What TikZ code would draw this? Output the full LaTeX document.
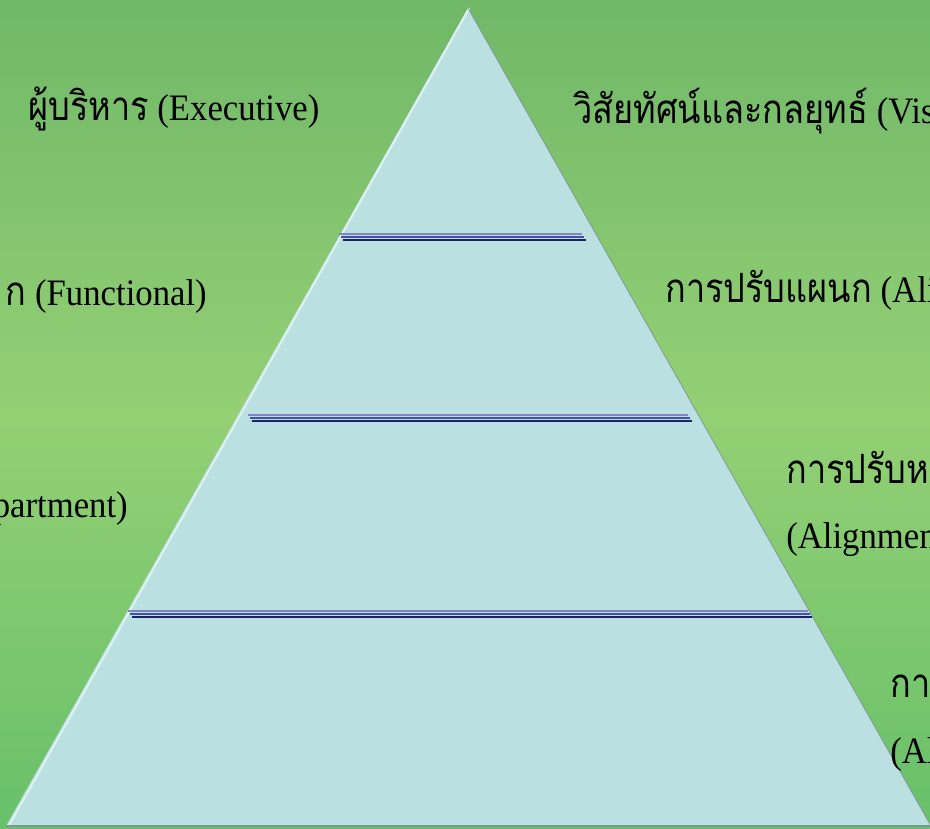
\documentclass[tikz,border=0pt]{standalone}
\usepackage{fontspec}
\setmainfont[FakeStretch=0.93]{Liberation Serif}
\newfontfamily\thaifont[Script=Thai,FakeStretch=0.85,Scale=1.08]{Loma}
\usetikzlibrary{positioning}
\definecolor{bgtop}{RGB}{112,184,104}
\definecolor{bgmid}{RGB}{148,208,116}
\definecolor{bgbot}{RGB}{104,192,106}
\definecolor{pyrfill}{RGB}{186,224,226}
\definecolor{pyrlight}{RGB}{222,241,242}
\definecolor{pyrshade}{RGB}{128,150,150}
\definecolor{barlight}{RGB}{128,132,196}
\definecolor{barmid}{RGB}{70,80,168}
\definecolor{bardark}{RGB}{28,34,98}

\tikzset{
  lbl/.style={inner sep=0pt, font=\fontsize{28}{34}\selectfont}
}

\begin{document}
\begin{tikzpicture}[x=0.75pt,y=-0.75pt]

\clip (0,0) rectangle (930,828);
\shade[top color=bgtop, bottom color=bgbot, middle color=bgmid] (0,0) rectangle (930,828);

% pyramid corners
\coordinate (apex) at (468,8);
\coordinate (bl)   at (6,826);
\coordinate (br)   at (931,826);

\fill[pyrfill] (apex) -- (bl) -- (br) -- cycle;
\draw[pyrlight, line width=1.5pt] ([xshift=1pt]apex) -- ([xshift=2pt]bl);
\draw[pyrshade, line width=0.6pt] (apex) -- (br);
\draw[pyrshade, line width=1.2pt] (bl) -- (br);

% level dividers
\coordinate (d1a) at (339,237);  \coordinate (d1b) at (586,237);
\coordinate (d2a) at (248,418);  \coordinate (d2b) at (692,418);
\coordinate (d3a) at (128,614);  \coordinate (d3b) at (812,614);

\foreach \f/\t in {% left end/right end
    d1a/d1b,
    d2a/d2b,
    d3a/d3b}
{
  \draw[barlight, line width=1.6pt] ([yshift=2.2pt]\f) -- ([xshift=-3pt,yshift=2.2pt]\t);
  \draw[barmid,   line width=1.4pt] ([xshift=1.5pt]\f) -- ([xshift=-1.5pt]\t);
  \draw[bardark,  line width=1.6pt] ([xshift=3pt,yshift=-2.2pt]\f) -- ([yshift=-2.2pt]\t);
}

% labels
\node[lbl, anchor=base west] (exec)   at (28,120)  {{\thaifont ผู้บริหาร} (Executive)};
\node[lbl, anchor=base west] (vision) at (573,123) {{\thaifont วิสัยทัศน์และกลยุทธ์} (Visi};
\node[lbl, anchor=base east] (func)   at (207,305) {{\thaifont ก} (Functional)};
\node[lbl, anchor=base west] (plan)   at (665,302) {{\thaifont การปรับแผนก} (Ali};
\node[lbl, anchor=base east] (dept)   at (128,517) {partment)};
\node[lbl, anchor=base west] (alignt) at (786,483) {\thaifont การปรับห};
\node[lbl, anchor=base west] (aligne) at (786,548) {(Alignmen};
\node[lbl, anchor=base west] (lastt)  at (890,697) {\thaifont การ};
\node[lbl, anchor=base west] (laste)  at (890,763) {(Al};

\end{tikzpicture}
\end{document}
